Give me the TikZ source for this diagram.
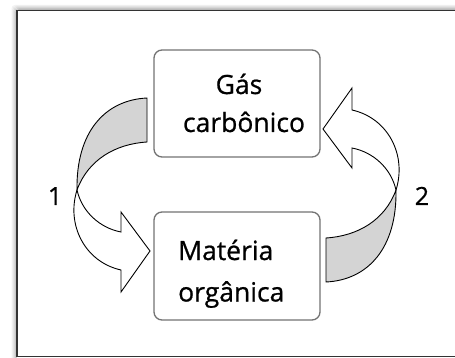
\documentclass[tikz,border=0pt]{standalone}
\usepackage{fontspec}
\setmainfont{Open Sans}
\newfontfamily\labelfont{Open Sans}[FakeBold=0.7]
\begin{document}
\begin{tikzpicture}[x=1pt,y=-1pt,
  box/.style={draw=black!55, line width=1.3pt, rounded corners=8pt, fill=white, inner sep=0pt},
  word/.style={inner sep=0pt, font=\labelfont\fontsize{26.5}{30}\selectfont},
  num/.style={inner sep=0pt, font=\labelfont\fontsize{25}{30}\selectfont},
  ribbon/.style={draw=black, line width=0.9pt, line join=miter},
  back/.style={ribbon, fill=black!17},
  front/.style={ribbon, fill=white}]
\useasboundingbox (0,0) rectangle (455,358);
% soft shadow along the top and left of the frame
\foreach \d/\o in {5/0.05,4/0.09,3/0.14,2/0.2,1/0.28}
  \draw[black, opacity=\o, line width=1pt, rounded corners=3pt]
    (17-\d,370) -- (17-\d,10.5-\d) -- (470,10.5-\d);
\draw[black!80, line width=1.6pt] (17,10.5) rectangle (475,356.5);

% the two boxes
\node[box, minimum width=166pt, minimum height=107pt] (gasbox) at (237,103.5) {};
\node[box, minimum width=166pt, minimum height=108pt] (matbox) at (237,266) {};
\node[word, anchor=base] (gasA) at (239,94) {Gás};
\node[word, anchor=base] (gasB) at (244,132) {carbônico};
\node[word, anchor=base west] (matA) at (178,260) {Matéria};
\node[word, anchor=base west] (matB) at (178,301.5) {orgânica};

% twisted ribbon arrows, the second one is the first turned half a turn
\foreach \r in {0,180}{
  \begin{scope}[rotate around={\r:(236.5,190)}]
    \filldraw[back] (147,98) .. controls (105,100) and (76,132) .. (77,190)
      .. controls (88,160) and (115,144) .. (147,142) -- cycle;
    \filldraw[front] (77,190) .. controls (66,225) and (85,262) .. (121,270)
      -- (121,292) -- (150,251) -- (121,212) -- (121,232)
      .. controls (100,228) and (82,212) .. (77,190) -- cycle;
  \end{scope}
}

\node[num, anchor=base] (one) at (55,205) {1};
\node[num, anchor=base] (two) at (422,205) {2};
\end{tikzpicture}
\end{document}
